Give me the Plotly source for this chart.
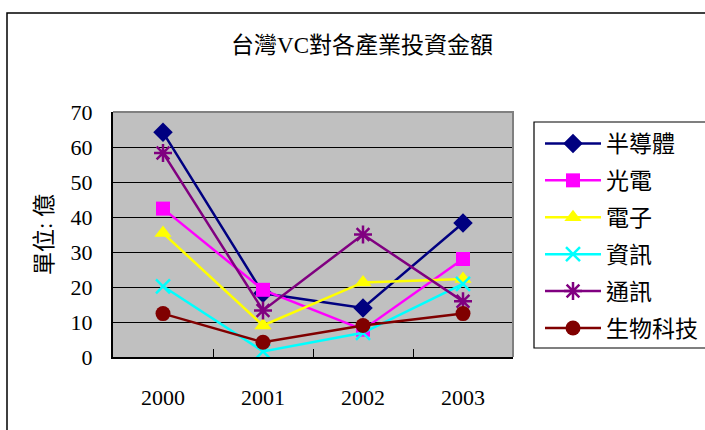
import plotly.graph_objects as go

# Investment amounts by industry (unit: 100 million NTD)
years = ["2000", "2001", "2002", "2003"]
semiconductor = [64.2, 18.2, 14.0, 38.3]
optoelectronics = [42.4, 19.2, 7.8, 28.0]
electronics = [35.4, 9.0, 21.3, 22.3]
information = [20.2, 1.6, 6.9, 20.9]
communications = [58.3, 13.3, 35.0, 15.9]
biotech = [12.4, 4.2, 9.0, 12.4]

series_names = ["半導體", "光電", "電子", "資訊", "通訊", "生物科技"]
series_values = [semiconductor, optoelectronics, electronics, information,
                 communications, biotech]
colors = ["#000080", "#FF00FF", "#FFFF00", "#00FFFF", "#800080", "#800000"]
symbols = ["diamond", "square", "triangle-up", "x-thin", "asterisk", "circle"]
sizes = [15, 14, 15, 14, 15, 15]

FONT = "Liberation Serif, Noto Sans CJK TC"
NUM_FONT = "Liberation Serif"

fig = go.Figure()
for i, (name, vals) in enumerate(zip(series_names, series_values)):
    open_sym = symbols[i] in ("x-thin", "asterisk")
    fig.add_trace(go.Scatter(
        x=years, y=vals, name=name, mode="lines+markers",
        legendgroup=name,
        line=dict(color=colors[i], width=2.5),
        marker=dict(symbol=symbols[i], size=sizes[i], color=colors[i],
                    line=dict(color=colors[i], width=2.5 if open_sym else 0)),
    ))

# legend frame edges (pixels) converted to paper units
LEG_L, LEG_T, LEG_B = 534, 122, 348
PLOT_L, PLOT_R, PLOT_T, PLOT_B = 113, 513, 112, 357
pw, ph = PLOT_R - PLOT_L, PLOT_B - PLOT_T

fig.update_layout(
    width=705, height=430,
    margin=dict(l=PLOT_L, r=705 - PLOT_R, t=PLOT_T, b=430 - PLOT_B,
                autoexpand=False),
    paper_bgcolor="white",
    plot_bgcolor="#C0C0C0",
    font=dict(family=FONT, size=22, color="black"),
    title=dict(text="台灣VC對各產業投資金額", x=362 / 705, xanchor="center",
               y=1 - 45 / 430, yanchor="middle",
               font=dict(family=FONT, size=23, color="black")),
    showlegend=True,
    legend=dict(x=(LEG_L + 6 - PLOT_L) / pw, y=(PLOT_B - LEG_T) / ph,
                xanchor="left", yanchor="top",
                borderwidth=0, bgcolor="rgba(0,0,0,0)",
                font=dict(family=FONT, size=23, color="black"),
                tracegroupgap=4, itemwidth=56),
    xaxis=dict(type="category", range=[-0.5, 3.5], showgrid=False,
               showline=True, linecolor="black", linewidth=2,
               ticks="inside", tickson="boundaries", ticklen=8,
               tickcolor="black", ticklabelstandoff=20,
               tickfont=dict(family=NUM_FONT, size=22)),
    yaxis=dict(range=[0, 70], dtick=10, showgrid=True, gridcolor="black",
               gridwidth=1, zeroline=False,
               showline=True, linecolor="black", linewidth=2,
               ticks="inside", ticklen=8, tickcolor="black",
               ticklabelstandoff=14,
               tickfont=dict(family=NUM_FONT, size=22),
               title=dict(text="單位: 億", standoff=12,
                          font=dict(family=FONT, size=23))),
    shapes=[
        # top and right edges of the plot area
        dict(type="path", xref="paper", yref="paper",
             path="M 0,1 L 1,1 L 1,0", line=dict(color="#808080", width=2),
             layer="above"),
        # legend frame
        dict(type="rect", xref="paper", yref="paper",
             x0=(LEG_L - PLOT_L) / pw, x1=1.6,
             y0=(PLOT_B - LEG_B) / ph, y1=(PLOT_B - LEG_T) / ph,
             line=dict(color="black", width=1.2), fillcolor="white",
             layer="below"),
        # outer chart frame
        dict(type="rect", xref="paper", yref="paper",
             x0=(7 - PLOT_L) / pw, x1=1.6, y0=-0.6, y1=(PLOT_B - 13) / ph,
             line=dict(color="black", width=1.5), fillcolor="rgba(0,0,0,0)",
             layer="above"),
    ],
)

fig.write_html("out.html")
